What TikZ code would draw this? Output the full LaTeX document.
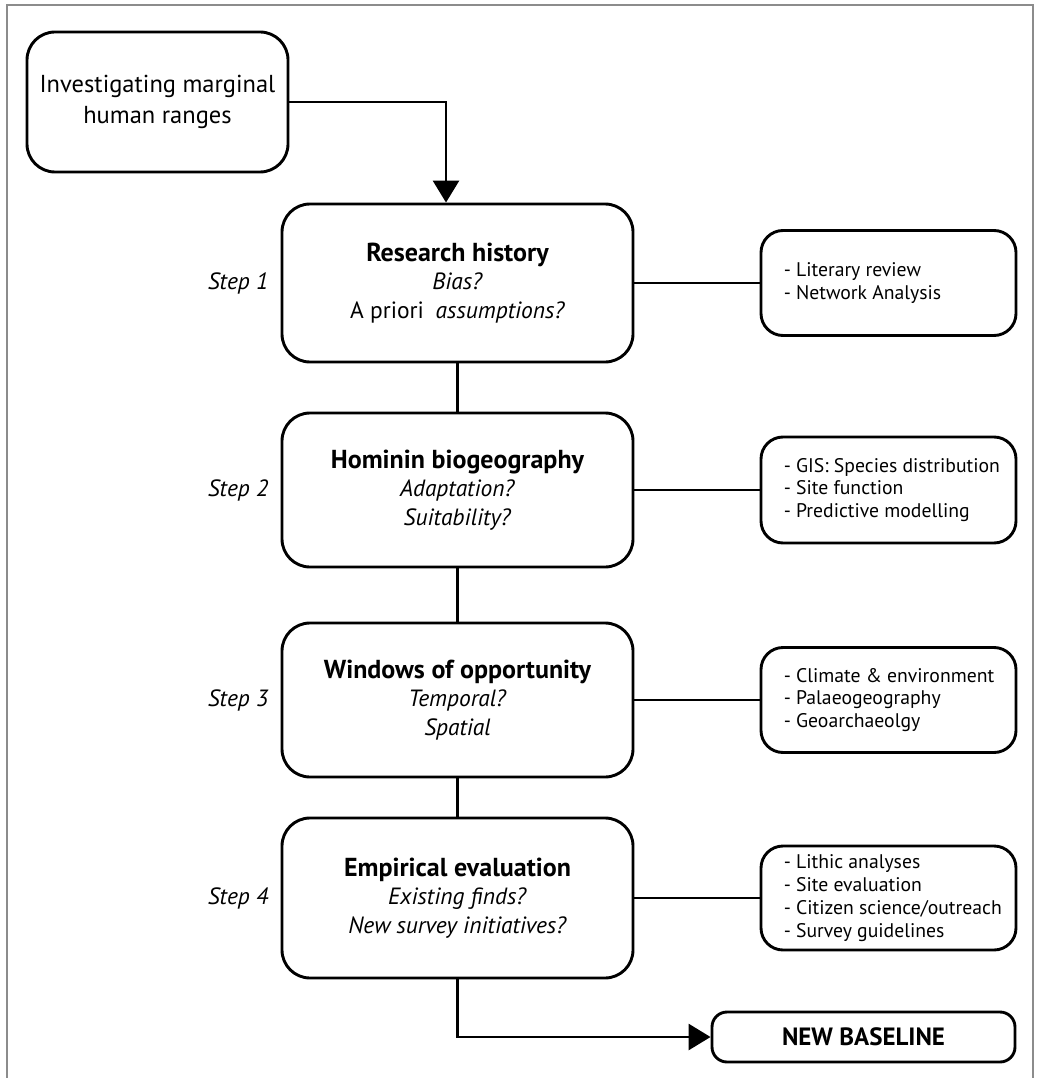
\documentclass[tikz,border=0pt]{standalone}
\usepackage{fontspec}
\setmainfont{PT Sans}
\usetikzlibrary{arrows.meta}
\definecolor{framegray}{RGB}{140,140,140}
\begin{document}
\begin{tikzpicture}[x=1pt,y=-1pt,
  box/.style={draw, line width=2.9pt, align=center, inner sep=0pt},
  startbox/.style={box, rounded corners=28pt, minimum width=261pt, minimum height=140pt,
    font=\fontsize{24.5}{31}\selectfont},
  stepbox/.style={box, rounded corners=28pt, minimum width=351pt,
    font=\fontsize{23.5}{28.5}\selectfont},
  rbox/.style={box, rounded corners=22pt, minimum width=255pt},
  rtext/.style={anchor=west, align=left, inner sep=0pt, font=\fontsize{19.7}{22.8}\selectfont},
  steplabel/.style={anchor=east, inner sep=0pt, font=\fontsize{23.5}{26}\selectfont\itshape},
  endbox/.style={box, rounded corners=15pt, minimum width=303pt, minimum height=50pt,
    font=\fontsize{25}{28}\selectfont\bfseries},
  conn/.style={line width=2.9pt},
  arr/.style={conn, -{Triangle[length=22pt,width=26pt]}}
]
\useasboundingbox (0,0) rectangle (1036,1078);
\draw[framegray, line width=2.5pt] (7,1078) -- (7,5) -- (1033,5) -- (1033,1078);

% start
\node[startbox] (start) at (157.5,102) {Investigating marginal\\human ranges};

% steps
\node[stepbox, minimum height=158pt] (s1) at (457.5,283)
  {{\fontsize{26}{30}\selectfont\bfseries Research history}\\\textit{Bias?}\\A priori\hspace{0.5em}\textit{assumptions?}};
\node[stepbox, minimum height=154pt] (s2) at (457.5,490)
  {{\fontsize{26}{30}\selectfont\bfseries Hominin biogeography}\\\textit{Adaptation?}\\\textit{Suitability?}};
\node[stepbox, minimum height=154pt] (s3) at (457.5,700)
  {{\fontsize{26}{30}\selectfont\bfseries Windows of opportunity}\\\textit{Temporal?}\\\textit{Spatial}};
\node[stepbox, minimum height=160pt] (s4) at (457.5,898)
  {{\fontsize{26}{30}\selectfont\bfseries Empirical evaluation}\\\textit{Existing finds?}\\\textit{New survey initiatives?}};

% step labels
\node[steplabel] (l1) at ([xshift=-12pt]s1.west) {Step 1};
\node[steplabel] (l2) at ([xshift=-12pt]s2.west) {Step 2};
\node[steplabel] (l3) at ([xshift=-12pt]s3.west) {Step 3};
\node[steplabel] (l4) at ([xshift=-12pt]s4.west) {Step 4};

% right boxes
\node[rbox, minimum height=105pt] (r1) at (888.5,283) {};
\node[rtext] (r1t) at ([xshift=24pt]r1.west) {- Literary review\\- Network Analysis};
\node[rbox, minimum height=106pt] (r2) at (888.5,490) {};
\node[rtext] (r2t) at ([xshift=24pt]r2.west) {- GIS: Species distribution\\- Site function\\- Predictive modelling};
\node[rbox, minimum height=105pt] (r3) at (888.5,700) {};
\node[rtext] (r3t) at ([xshift=24pt]r3.west) {- Climate \& environment\\- Palaeogeography\\- Geoarchaeolgy};
\node[rbox, minimum height=104pt] (r4) at (888.5,898) {};
\node[rtext] (r4t) at ([xshift=24pt]r4.west) {- Lithic analyses\\- Site evaluation\\- Citizen science/outreach\\- Survey guidelines};

% end
\node[endbox] (nb) at (863.5,1037) {NEW BASELINE};

% connectors
\draw[arr] (start.east) -| ([xshift=-11.5pt]s1.north);
\draw[conn] (s1.south) -- (s2.north);
\draw[conn] (s2.south) -- (s3.north);
\draw[conn] (s3.south) -- (s4.north);
\draw[conn] (s1.east) -- (r1.west);
\draw[conn] (s2.east) -- (r2.west);
\draw[conn] (s3.east) -- (r3.west);
\draw[conn] (s4.east) -- (r4.west);
\draw[arr] (s4.south) |- (nb.west);
\end{tikzpicture}
\end{document}
